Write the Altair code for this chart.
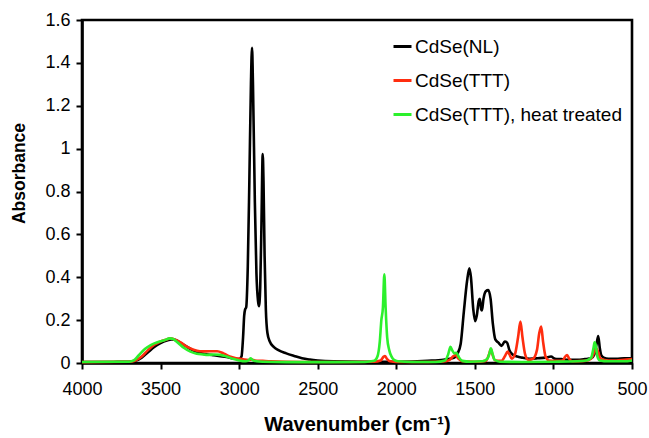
import altair as alt
import pandas as pd

# FTIR spectra of CdSe nanocrystals (wavenumber in cm^-1, absorbance)
nl_wn = [4000, 3800, 3700, 3660, 3620, 3580, 3540, 3500, 3460, 3430, 3400, 3360, 3320, 3280,
         3240, 3200, 3160, 3120, 3080, 3040, 3000, 2985, 2975, 2968, 2962, 2955, 2945, 2935,
         2925, 2918, 2912, 2900, 2890, 2880, 2874, 2866, 2858, 2850, 2845, 2838, 2830, 2820,
         2805, 2780, 2750, 2700, 2650, 2600, 2550, 2500, 2400, 2200, 2000, 1800, 1700, 1660,
         1630, 1610, 1590, 1570, 1550, 1535, 1525, 1510, 1498, 1488, 1475, 1468, 1460, 1455,
         1445, 1430, 1415, 1400, 1385, 1370, 1350, 1330, 1310, 1295, 1280, 1260, 1230, 1200,
         1150, 1100, 1050, 1015, 990, 950, 900, 850, 800, 760, 740, 725, 715, 705, 695, 680,
         650, 600, 550, 500]
nl_abs = [0.004, 0.005, 0.006, 0.010, 0.025, 0.050, 0.075, 0.093, 0.105, 0.110, 0.106, 0.088,
          0.070, 0.055, 0.046, 0.040, 0.036, 0.032, 0.028, 0.022, 0.018, 0.030, 0.120, 0.220,
          0.250, 0.260, 0.450, 0.850, 1.300, 1.470, 1.300, 0.750, 0.420, 0.290, 0.265, 0.350,
          0.650, 0.975, 0.850, 0.500, 0.250, 0.140, 0.100, 0.075, 0.060, 0.045, 0.033, 0.022,
          0.016, 0.012, 0.008, 0.006, 0.006, 0.010, 0.015, 0.020, 0.025, 0.045, 0.090, 0.240,
          0.380, 0.442, 0.400, 0.250, 0.195, 0.220, 0.290, 0.300, 0.250, 0.245, 0.300, 0.335,
          0.340, 0.300, 0.180, 0.110, 0.095, 0.080, 0.100, 0.095, 0.060, 0.040, 0.030, 0.025,
          0.020, 0.022, 0.025, 0.030, 0.020, 0.018, 0.015, 0.015, 0.018, 0.022, 0.040, 0.090,
          0.126, 0.070, 0.035, 0.025, 0.020, 0.020, 0.022, 0.022]

ttt_wn = [4000, 3700, 3660, 3620, 3580, 3540, 3500, 3460, 3440, 3410, 3370, 3330, 3290, 3250,
          3210, 3170, 3140, 3100, 3060, 3020, 2980, 2940, 2920, 2900, 2850, 2800, 2600, 2300,
          2140, 2100, 2080, 2072, 2060, 2040, 2000, 1800, 1700, 1660, 1640, 1623, 1605, 1580,
          1500, 1430, 1410, 1398, 1388, 1370, 1330, 1310, 1292, 1280, 1265, 1245, 1225, 1210,
          1197, 1180, 1160, 1130, 1105, 1090, 1078, 1066, 1050, 1030, 980, 940, 925, 913, 900,
          880, 800, 760, 740, 728, 715, 700, 650, 600, 550, 500]
ttt_abs = [0.004, 0.006, 0.012, 0.030, 0.060, 0.085, 0.100, 0.110, 0.115, 0.110, 0.095, 0.075,
           0.062, 0.055, 0.054, 0.055, 0.055, 0.045, 0.030, 0.022, 0.018, 0.014, 0.016, 0.012,
           0.010, 0.008, 0.005, 0.005, 0.006, 0.012, 0.030, 0.033, 0.020, 0.008, 0.005, 0.005,
           0.007, 0.015, 0.030, 0.037, 0.020, 0.008, 0.006, 0.010, 0.040, 0.065, 0.040, 0.012,
           0.010, 0.030, 0.053, 0.040, 0.020, 0.040, 0.120, 0.193, 0.120, 0.040, 0.015, 0.020,
           0.060, 0.140, 0.170, 0.100, 0.030, 0.012, 0.010, 0.012, 0.030, 0.037, 0.020, 0.008,
           0.010, 0.020, 0.050, 0.070, 0.050, 0.020, 0.012, 0.012, 0.015, 0.018]

heat_wn = [4000, 3700, 3670, 3640, 3600, 3560, 3520, 3480, 3440, 3420, 3390, 3350, 3310, 3270,
           3230, 3200, 3160, 3120, 3080, 3040, 3000, 2960, 2940, 2928, 2915, 2890, 2850, 2700,
           2400, 2200, 2140, 2120, 2105, 2095, 2085, 2076, 2068, 2058, 2045, 2030, 2015, 1990,
           1900, 1750, 1690, 1670, 1655, 1645, 1630, 1617, 1600, 1580, 1530, 1450, 1420, 1405,
           1398, 1390, 1375, 1340, 1200, 1000, 850, 790, 760, 745, 738, 730, 720, 705, 650, 550,
           500]
heat_abs = [0.005, 0.006, 0.012, 0.035, 0.065, 0.085, 0.097, 0.105, 0.115, 0.112, 0.095, 0.070,
            0.053, 0.043, 0.040, 0.038, 0.040, 0.038, 0.030, 0.020, 0.012, 0.008, 0.012, 0.022,
            0.014, 0.008, 0.006, 0.004, 0.004, 0.005, 0.010, 0.030, 0.100, 0.200, 0.260, 0.414,
            0.260, 0.120, 0.060, 0.030, 0.015, 0.008, 0.005, 0.005, 0.012, 0.040, 0.075, 0.060,
            0.045, 0.048, 0.025, 0.010, 0.006, 0.008, 0.020, 0.050, 0.069, 0.050, 0.015, 0.006,
            0.005, 0.006, 0.008, 0.012, 0.025, 0.070, 0.096, 0.080, 0.030, 0.012, 0.008, 0.008,
            0.012]

samples = ["CdSe(NL)", "CdSe(TTT)", "CdSe(TTT), heat treated"]
colors = ["#000000", "#ff2d0f", "#2cf02c"]
x_ticks = [4000, 3500, 3000, 2500, 2000, 1500, 1000, 500]
y_ticks = [0, 0.2, 0.4, 0.6, 0.8, 1.0, 1.2, 1.4, 1.6]

df = pd.concat([
    pd.DataFrame({"wavenumber": wn, "absorbance": ab, "sample": name})
    for name, wn, ab in zip(samples, [nl_wn, ttt_wn, heat_wn], [nl_abs, ttt_abs, heat_abs])
])

FONT = "Liberation Sans"

x_enc = alt.X(
    "wavenumber:Q",
    scale=alt.Scale(domain=[500, 4000], reverse=True, nice=False, zero=False),
    axis=alt.Axis(
        values=x_ticks, format="d", title="Wavenumber (cm⁻¹)",
        titleX=275, titleY=61, titleBaseline="middle", titleFontSize=20,
        labelPadding=11, labelFlush=False, labelOverlap=False,
    ),
)
y_enc = alt.Y(
    "absorbance:Q",
    scale=alt.Scale(domain=[0, 1.6], nice=False),
    axis=alt.Axis(
        values=y_ticks, format="~g", title="Absorbance",
        titleX=-63, titleY=153, titleBaseline="middle", titleAngle=-90, titleFontSize=17.5,
        labelPadding=6, labelFlush=False, labelOverlap=False,
    ),
)
color_enc = alt.Color(
    "sample:N",
    scale=alt.Scale(domain=samples, range=colors),
    legend=alt.Legend(
        title=None, orient="none", legendX=310, legendY=16,
        symbolType="stroke", symbolSize=324, symbolStrokeWidth=3,
        labelFontSize=19, labelFont=FONT, labelOffset=2, rowPadding=13, labelLimit=0,
    ),
)

# One layer per sample so the heat-treated trace is drawn on top
layers = [
    alt.Chart(df).transform_filter(alt.datum.sample == name)
    .mark_line(strokeWidth=2.6, interpolate="monotone")
    .encode(x=x_enc, y=y_enc, color=color_enc)
    for name in samples
]

chart = (
    alt.layer(*layers)
    .properties(
        width=550, height=343,
        autosize=alt.AutoSizeParams(type="none"),
        padding={"left": 82, "top": 20, "right": 17, "bottom": 75},
        background="white",
    )
    .configure_view(stroke="black", strokeWidth=2.6)
    .configure_axis(
        grid=False, domainColor="black", domainWidth=2.6,
        tickColor="black", tickWidth=2, tickSize=6,
        labelFont=FONT, labelFontSize=18, labelColor="black",
        titleFont=FONT, titleFontWeight="bold", titleColor="black",
    )
)

chart.save("out.html", embed_options={"renderer": "svg", "actions": False})
